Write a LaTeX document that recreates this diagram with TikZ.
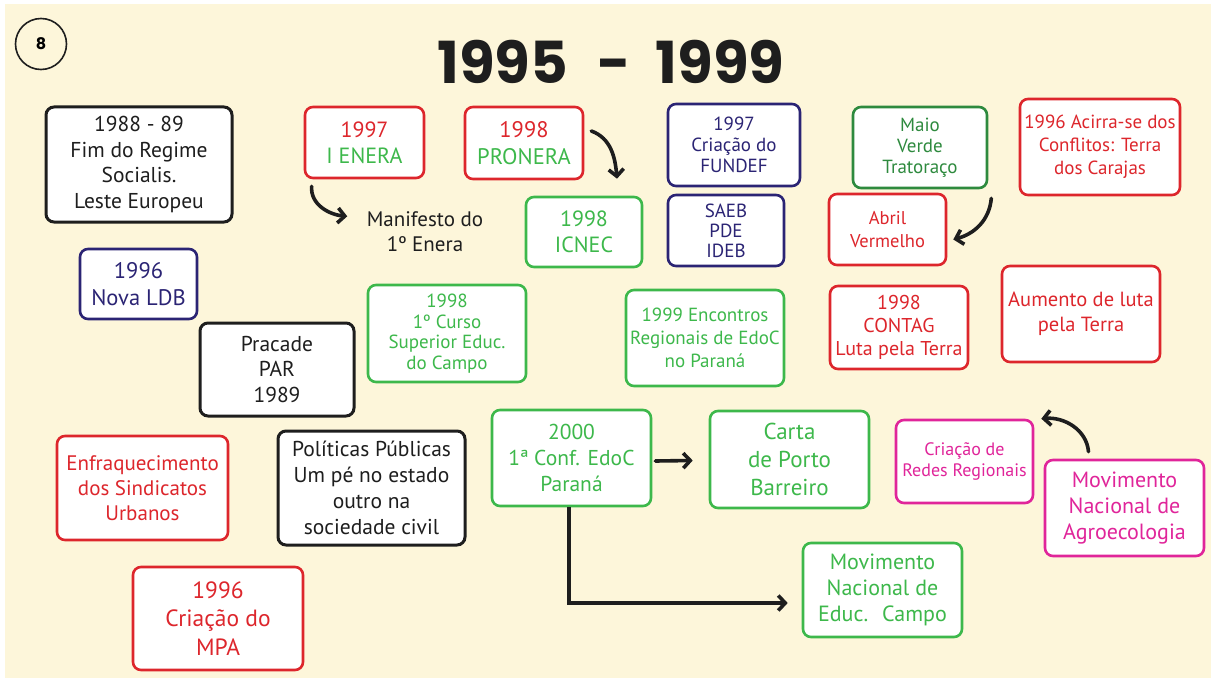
\documentclass[tikz,border=0pt]{standalone}
\usepackage{fontspec}
\setmainfont{PT Sans}
\newfontfamily\titlefont{Poppins}
\usetikzlibrary{arrows.meta}
\definecolor{cream}{HTML}{FDF6DA}
\definecolor{cred}{HTML}{DD262C}
\definecolor{cgreen}{HTML}{3DB84B}
\definecolor{cdgreen}{HTML}{2E8A3E}
\definecolor{cnavy}{HTML}{2B2474}
\definecolor{cmag}{HTML}{E0259A}
\definecolor{cblack}{HTML}{1E1E1E}
\newcommand\fsz[1]{\fontsize{#1}{\the\dimexpr#1pt*6/5\relax}\selectfont}
\tikzset{
  box/.style={draw=#1, text=#1, fill=white, line width=2.6pt, rounded corners=8pt,
    align=center, inner sep=2pt},
  arr/.style={draw=cblack, line width=3.6pt, line cap=round,
    -{Straight Barb[length=7pt,width=15pt,line width=3.6pt]}},
}
\begin{document}
\begin{tikzpicture}[x=1pt,y=-1pt]
\fill[white] (0,0) rectangle (1216,682);
\fill[cream] (5,4) rectangle (1211,678);
\useasboundingbox (0,0) rectangle (1216,682);

\node[draw=cblack, line width=1.6pt, circle, minimum size=51pt, inner sep=0pt,
  font=\titlefont\bfseries\fontsize{16}{20}\selectfont] (num) at (41,44) {8};
\node[font=\titlefont\bfseries\fontsize{58}{60}\selectfont, text=cblack] (title) at (611,62)
  {1995\kern29pt-\kern25pt1999};

\node[box=cblack, line width=3pt, minimum width=186pt, minimum height=115pt,
  font=\fsz{21.5}] (fim) at (139,164.5) {1988 - 89\\Fim do Regime\\Socialis.\\Leste Europeu};
\node[box=cred, minimum width=119pt, minimum height=71pt, font=\fsz{22}] (enera) at (364.5,142.5)
  {\textcolor{cred}{1997}\\\textcolor{cgreen}{I ENERA}};
\node[box=cred, minimum width=118pt, minimum height=72pt, font=\fsz{22.5}] (pronera) at (524,143)
  {\textcolor{cred}{1998}\\\textcolor{cgreen}{PRONERA}};
\node[font=\fsz{21}, text=cblack, align=center] (manif) at (425,232) {Manifesto do\\1º Enera};
\node[box=cgreen, minimum width=116pt, minimum height=70pt, font=\fsz{22}] (icnec) at (584,232) {1998\\ICNEC};
\node[box=cnavy, minimum width=132pt, minimum height=82pt, font=\fontsize{19}{21}\selectfont] (fundef) at (734,145) {1997\\Criação do\\FUNDEF};
\node[box=cnavy, minimum width=116pt, minimum height=71pt, font=\fontsize{19}{20}\selectfont] (saeb) at (726,230.5) {SAEB\\PDE\\IDEB};
\node[box=cdgreen, minimum width=134pt, minimum height=81pt, font=\fontsize{19}{21}\selectfont] (maio) at (920,147.5) {Maio\\Verde\\Tratoraço};
\node[box=cred, minimum width=160pt, minimum height=96pt, font=\fsz{19}] (acirra) at (1100,147) {1996 Acirra-se dos\\Conflitos: Terra\\dos Carajas};
\node[box=cred, minimum width=117pt, minimum height=71pt, font=\fsz{18.5}] (abril) at (887.5,229.5) {Abril\\Vermelho};
\node[box=cnavy, minimum width=117pt, minimum height=70pt, font=\fsz{22.5}] (ldb) at (138.5,284) {1996\\Nova LDB};
\node[box=cblack, line width=3pt, minimum width=154pt, minimum height=93pt, font=\fsz{21.5}] (pracade) at (277,369.5) {Pracade\\PAR\\1989};
\node[box=cgreen, minimum width=158pt, minimum height=97pt, font=\fontsize{19}{20.5}\selectfont] (curso) at (447,333.5) {1998\\1º Curso\\Superior Educ.\\do Campo};
\node[box=cgreen, minimum width=158pt, minimum height=96pt, font=\fsz{19}] (encontros) at (705,338) {1999 Encontros\\Regionais de EdoC\\no Paraná};
\node[box=cred, minimum width=138pt, minimum height=83pt, font=\fontsize{20}{23}\selectfont] (contag) at (899,327.5) {1998\\CONTAG\\Luta pela Terra};
\node[box=cred, minimum width=158pt, minimum height=96pt, font=\fsz{20.5}] (aumento) at (1081,314) {Aumento de luta\\pela Terra};
\node[box=cred, minimum width=171pt, minimum height=104pt, font=\fsz{21}] (enfraq) at (142.5,488) {Enfraquecimento\\dos Sindicatos\\Urbanos};
\node[box=cblack, line width=3pt, minimum width=187pt, minimum height=114pt, font=\fontsize{21.5}{26}\selectfont] (politicas) at (371.5,488) {Políticas Públicas\\Um pé no estado\\outro na\\sociedade civil};
\node[box=cgreen, minimum width=159pt, minimum height=96pt, font=\fsz{21.5}] (conf) at (571.5,458) {2000\\1ª Conf. EdoC\\Paraná};
\node[box=cgreen, minimum width=159pt, minimum height=97pt, font=\fsz{23}] (carta) at (789.5,459.5) {Carta\\de Porto\\Barreiro};
\node[box=cmag, minimum width=137pt, minimum height=83pt, font=\fsz{18}] (redes) at (964.5,461.5) {Criação de\\Redes Regionais};
\node[box=cmag, minimum width=159pt, minimum height=96pt, font=\fsz{22}] (agro) at (1124.5,508) {Movimento\\Nacional de\\Agroecologia};
\node[box=cred, minimum width=170pt, minimum height=103pt, font=\fsz{23.5}] (mpa) at (218,618.5) {1996\\Criação do\\MPA};
\node[box=cgreen, minimum width=159pt, minimum height=94pt, font=\fsz{22}] (mnec) at (882.5,590) {Movimento\\Nacional de\\Educ.\hspace{14pt}Campo};

% connectors
\draw[arr] ([xshift=8pt,yshift=-7pt]enera.south west) to[out=-95,in=175] ([xshift=-16pt,yshift=-8pt]manif.north west);
\draw[arr] ([xshift=7pt,yshift=12pt]pronera.east) to[out=-20,in=95] ([xshift=33pt,yshift=17pt]icnec.north);
\draw[arr] ([xshift=3pt,yshift=-9pt]maio.south east) to[out=-95,in=15] ([xshift=6pt,yshift=-10pt]abril.east);
\draw[arr] ([xshift=-36pt,yshift=7pt]agro.north) to[out=95,in=5] ([xshift=7pt,yshift=0pt]redes.north east);
\draw[arr] ([xshift=3pt,yshift=-3pt]conf.east) -- ([xshift=-16pt,yshift=-1pt]carta.west);
\draw[arr, line width=3.2pt, line cap=butt] ([xshift=-2.5pt]conf.south) |- ([xshift=-14pt,yshift=-13pt]mnec.west);
\end{tikzpicture}
\end{document}
